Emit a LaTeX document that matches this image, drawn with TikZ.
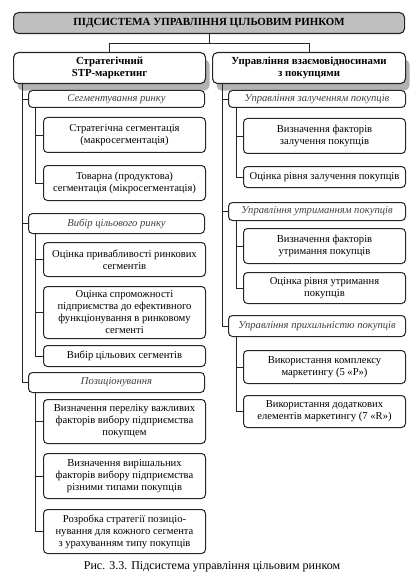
\documentclass[tikz,border=0pt]{standalone}
\usepackage{fontspec}
\setmainfont{Liberation Serif}
\usetikzlibrary{shadows}
\begin{document}
\begin{tikzpicture}[x=1pt,y=-1pt,
  base/.style={draw=black!85, line width=1pt, fill=white, align=center, inner sep=1pt, anchor=north west},
  topbox/.style={base, line width=1.1pt, rounded corners=5pt, fill=gray!50, font=\bfseries\fontsize{10.9}{12}\selectfont},
  lone/.style={base, line width=1.1pt, rounded corners=5pt, font=\bfseries\fontsize{10.8}{12}\selectfont,
     drop shadow={shadow xshift=4pt, shadow yshift=-7pt, fill=gray!60, opacity=1}},
  ltwo/.style={base, rounded corners=4pt, font=\itshape\fontsize{10.6}{12}\selectfont, text=black!75},
  lthree/.style={base, rounded corners=4pt, font=\fontsize{10.6}{12}\selectfont},
  conn/.style={draw=black!85, line width=0.9pt}]
\useasboundingbox (0,0) rectangle (417,580);

\node[topbox, minimum width=391pt, minimum height=21pt] (T) at (13,12) {ПІДСИСТЕМА УПРАВЛІННЯ ЦІЛЬОВИМ РИНКОМ};

\node[lone, minimum width=192pt, minimum height=31pt] (L1) at (13,52) {Стратегічний\\STP-маркетинг};
\node[lone, minimum width=193pt, minimum height=31pt] (R1) at (212,52) {Управління взаємовідносинами\\з покупцями};

% left column
\node[ltwo, minimum width=176pt, minimum height=17pt] (Lseg) at (28,90) {Сегментування ринку};
\node[lthree, minimum width=162pt, minimum height=35pt] (La) at (43,117) {Стратегічна сегментація\\(макросегментація)};
\node[lthree, minimum width=162pt, minimum height=35pt] (Lb) at (43,165) {Товарна (продуктова)\\сегментація (мікросегментація)};
\node[ltwo, minimum width=176pt, minimum height=20pt] (Lvib) at (28,213) {Вибір цільового ринку};
\node[lthree, minimum width=162pt, minimum height=34pt] (Lc) at (43,242) {Оцінка привабливості ринкових\\сегментів};
\node[lthree, minimum width=162pt, minimum height=52pt] (Ld) at (43,286) {Оцінка спроможності\\підприємства до ефективного\\функціонування в ринковому\\сегменті};
\node[lthree, minimum width=162pt, minimum height=21pt] (Le) at (43,345) {Вибір цільових сегментів};
\node[ltwo, minimum width=176pt, minimum height=20pt] (Lpos) at (28,372) {Позиціонування};
\node[lthree, minimum width=162pt, minimum height=44pt] (Lf) at (43,399) {Визначення переліку важливих\\факторів вибору підприємства\\покупцем};
\node[lthree, minimum width=162pt, minimum height=45pt] (Lg) at (43,453) {Визначення вирішальних\\факторів вибору підприємства\\різними типами покупців};
\node[lthree, minimum width=162pt, minimum height=44pt] (Lh) at (43,509) {Розробка стратегії позиціо-\\нування для кожного сегмента\\з урахуванням типу покупців};

% right column
\node[ltwo, minimum width=177pt, minimum height=17pt] (Rz) at (228,90) {Управління залученням покупців};
\node[lthree, minimum width=162pt, minimum height=35pt] (Ra) at (243,118) {Визначення факторів\\залучення покупців};
\node[lthree, minimum width=162pt, minimum height=21pt] (Rb) at (243,166) {Оцінка рівня залучення покупців};
\node[ltwo, minimum width=177pt, minimum height=18pt] (Rut) at (228,202) {Управління утриманням покупців};
\node[lthree, minimum width=162pt, minimum height=35pt] (Rc) at (243,228) {Визначення факторів\\утримання покупців};
\node[lthree, minimum width=162pt, minimum height=31pt] (Rd) at (243,272) {Оцінка рівня утримання\\покупців};
\node[ltwo, minimum width=177pt, minimum height=21pt] (Rpr) at (228,315) {Управління прихильністю покупців};
\node[lthree, minimum width=162pt, minimum height=33pt] (Re) at (243,350) {Використання комплексу\\маркетингу (5 «P»)};
\node[lthree, minimum width=162pt, minimum height=32pt] (Rf) at (243,395) {Використання додаткових\\елементів маркетингу (7 «R»)};

\node[font=\fontsize{12}{14}\selectfont, inner sep=0pt] (cap) at (212,567) {Рис. 3.3. Підсистема управління цільовим ринком};

% connectors
\coordinate (hb) at (0,43);
\draw[conn] (T.south) -- (T.south |- hb);
\draw[conn] (L1.north) -- (L1.north |- hb) -- (R1.north |- hb) -- (R1.north);

\coordinate (lv) at (22,0);
\coordinate (lw) at (35,0);
\coordinate (rv) at (222,0);
\coordinate (rw) at (236,0);

\draw[conn] (L1.south -| lv) |- (Lpos.west);
\draw[conn] (lv |- Lseg.west) -- (Lseg.west);
\draw[conn] (lv |- Lvib.west) -- (Lvib.west);

\draw[conn] (Lseg.south -| lw) |- (Lb.west);
\draw[conn] (lw |- La.west) -- (La.west);
\draw[conn] (Lvib.south -| lw) |- (Le.west);
\draw[conn] (lw |- Lc.west) -- (Lc.west);
\draw[conn] (lw |- Ld.west) -- (Ld.west);
\draw[conn] (Lpos.south -| lw) |- (Lh.west);
\draw[conn] (lw |- Lf.west) -- (Lf.west);
\draw[conn] (lw |- Lg.west) -- (Lg.west);

\draw[conn] (R1.south -| rv) |- (Rpr.west);
\draw[conn] (rv |- Rz.west) -- (Rz.west);
\draw[conn] (rv |- Rut.west) -- (Rut.west);

\draw[conn] (Rz.south -| rw) |- (Rb.west);
\draw[conn] (rw |- Ra.west) -- (Ra.west);
\draw[conn] (Rut.south -| rw) |- (Rd.west);
\draw[conn] (rw |- Rc.west) -- (Rc.west);
\draw[conn] (Rpr.south -| rw) |- (Rf.west);
\draw[conn] (rw |- Re.west) -- (Re.west);
\end{tikzpicture}
\end{document}
